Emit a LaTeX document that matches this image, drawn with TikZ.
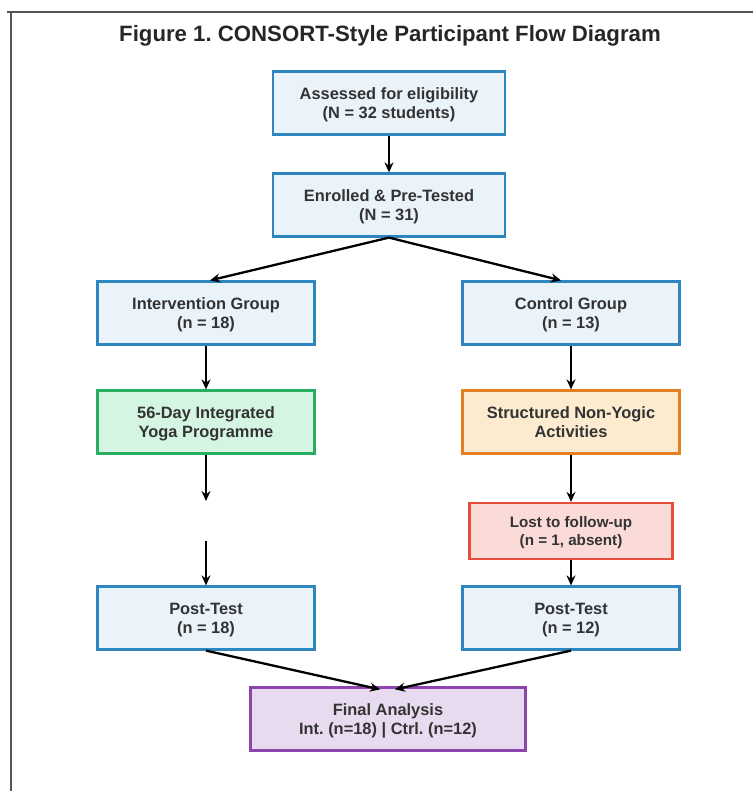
\documentclass[tikz,border=0pt]{standalone}
\usepackage{fontspec}
\setmainfont{Liberation Sans}
\usetikzlibrary{arrows.meta}
\frenchspacing

\definecolor{txtgray}{HTML}{333333}
\definecolor{framegray}{HTML}{555555}
\definecolor{bluefill}{HTML}{EAF2FA}
\definecolor{blueline}{HTML}{2E86C1}
\definecolor{greenfill}{HTML}{D5F5E3}
\definecolor{greenline}{HTML}{27AE60}
\definecolor{orangefill}{HTML}{FDEBD0}
\definecolor{orangeline}{HTML}{E67E22}
\definecolor{redfill}{HTML}{FADBD8}
\definecolor{redline}{HTML}{E74C3C}
\definecolor{purplefill}{HTML}{E8DAEF}
\definecolor{purpleline}{HTML}{8E44AD}

\begin{document}
\begin{tikzpicture}[x=1pt,y=-1pt]

\tikzstyle{every node}+=[inner sep=0pt, text=txtgray, font=\bfseries\fontsize{16.4}{19}\selectfont, align=center]
\tikzstyle{flowbox}=[draw=blueline, fill=bluefill, line width=2.2pt, minimum width=217pt, minimum height=63pt, text depth=-1.5pt]
\tikzstyle{flowarrow}=[black, line width=2.3pt, -{Stealth[length=10pt,width=9pt]}]

\useasboundingbox (0,0) rectangle (753,791);
\draw [framegray, line width=1.5pt] (7,12) -- (753,12);
\draw [framegray, line width=1.5pt] (11,12) -- (11,791);

\node [text=black!85] (title) at (390,36) {\fontsize{22.2}{26}\selectfont Figure 1. CONSORT-Style Participant Flow Diagram};

\node [flowbox, minimum width=232pt] (assess) at (389,103) {Assessed for eligibility\\(N = 32 students)};
\node [flowbox, minimum width=232pt] (enrol) at (389,205) {Enrolled \& Pre-Tested\\(N = 31)};
\node [flowbox] (interv) at (206,313) {Intervention Group\\(n = 18)};
\node [flowbox] (control) at (571,313) {Control Group\\(n = 13)};
\node [flowbox, draw=greenline, fill=greenfill] (yoga) at (206,422) {56-Day Integrated\\Yoga Programme};
\node [flowbox, draw=orangeline, fill=orangefill] (nonyoga) at (571,422) {Structured Non-Yogic\\Activities};
\node [flowbox, draw=redline, fill=redfill, minimum width=203pt, minimum height=56pt, font=\bfseries\fontsize{15.2}{18}\selectfont] (lost) at (571,531) {Lost to follow-up\\(n = 1, absent)};
\node [flowbox] (postint) at (206,618) {Post-Test\\(n = 18)};
\node [flowbox] (postctl) at (571,618) {Post-Test\\(n = 12)};
\node [flowbox, draw=purpleline, fill=purplefill, minimum width=275pt] (final) at (388,719) {Final Analysis\\Int. (n=18) | Ctrl. (n=12)};

\coordinate (gapA) at (206,501);
\coordinate (gapB) at (206,541);

\draw [flowarrow] (assess.south) -- (enrol.north);
\draw [flowarrow] (enrol.south) -- ([xshift=4pt]interv.north);
\draw [flowarrow] (enrol.south) -- ([xshift=-10pt]control.north);
\draw [flowarrow] (interv.south) -- (yoga.north);
\draw [flowarrow] (yoga.south) -- (gapA);
\draw [flowarrow] (gapB) -- (postint.north);
\draw [flowarrow] (control.south) -- (nonyoga.north);
\draw [flowarrow] (nonyoga.south) -- (lost.north);
\draw [flowarrow] (lost.south) -- (postctl.north);
\draw [flowarrow] (postint.south) -- ([xshift=-8pt,yshift=-3pt]final.north);
\draw [flowarrow] (postctl.south) -- ([xshift=7pt,yshift=-3pt]final.north);

\end{tikzpicture}
\end{document}
